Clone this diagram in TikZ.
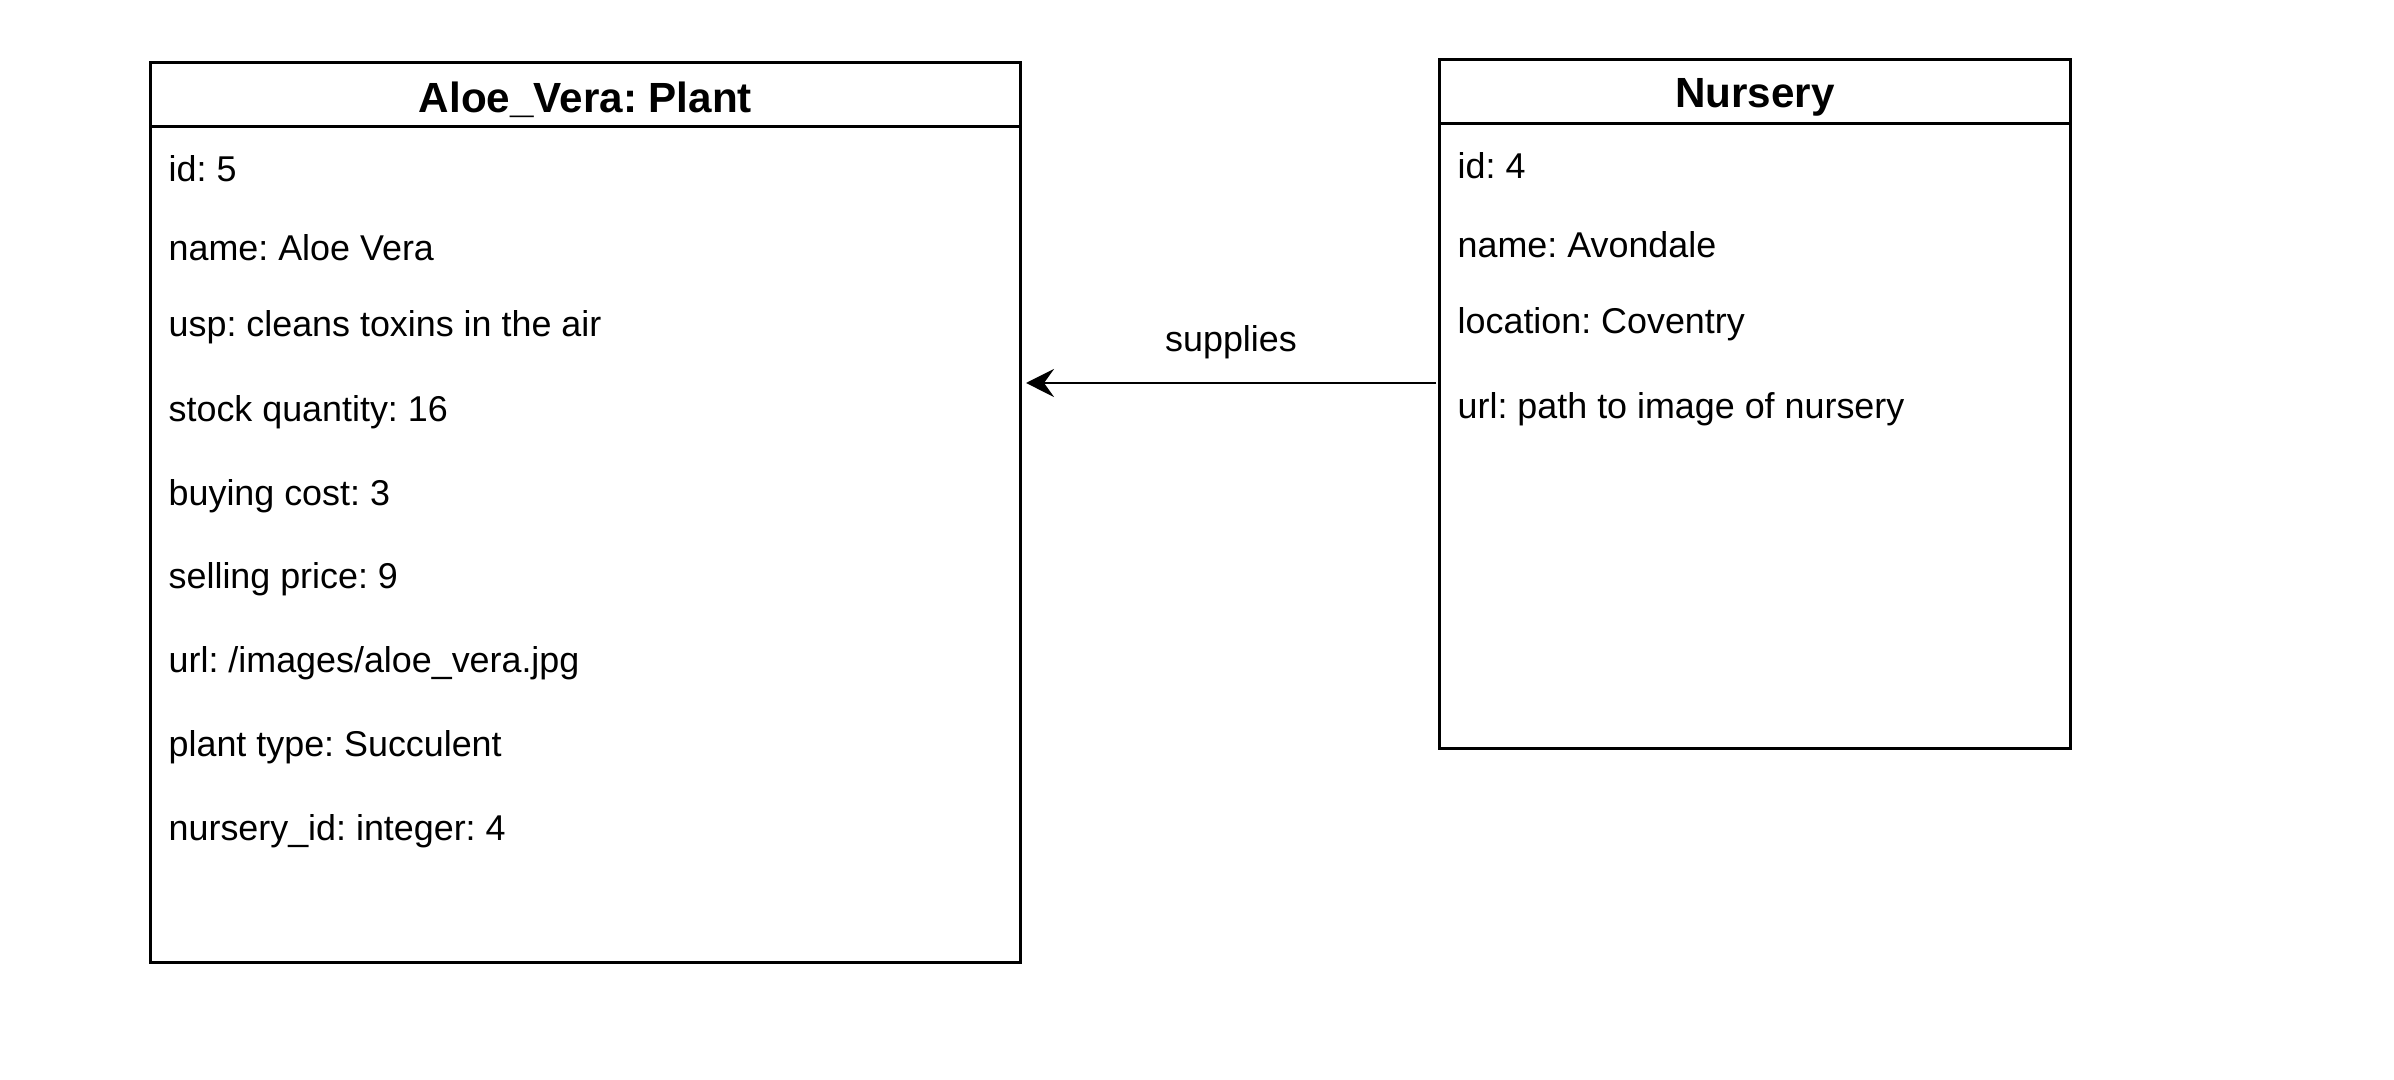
\documentclass[tikz,border=0pt]{standalone}
\usepackage{fontspec}
\setmainfont{Liberation Sans}
\frenchspacing
\usetikzlibrary{arrows.meta,calc,positioning}
\tikzset{
  classbox/.style={draw=black,line width=0.85pt,rectangle,inner sep=0pt},
  classtitle/.style={font=\fontsize{12}{14}\selectfont\bfseries},
  attr/.style={anchor=west,inner sep=0pt,font=\fontsize{10.2}{12}\selectfont},
  assoc/.style={line width=0.7pt,-{Stealth[length=2.8mm,width=2.8mm,inset=1mm]}}
}

\begin{document}
\begin{tikzpicture}[x=0.01cm,y=-0.01cm]
\useasboundingbox (0,0) rectangle (2394,1080);

% Draw the two class boxes.
\node[classbox,minimum width=8.69cm,minimum height=8.99cm] (plant) at (585.5,512.5) {};
\node[classbox,minimum width=6.30cm,minimum height=6.88cm] (nursery) at (1755,404) {};

% Draw headers.
\draw[line width=0.85pt] ([yshift=-0.65cm]plant.north west) -- ([yshift=-0.65cm]plant.north east);
\draw[line width=0.85pt] ([yshift=-0.65cm]nursery.north west) -- ([yshift=-0.65cm]nursery.north east);
\node[classtitle] (plantTitle) at ([yshift=-0.39cm]plant.north) {Aloe\_Vera: Plant};
\node[classtitle] (nurseryTitle) at ([yshift=-0.39cm]nursery.north) {Nursery};

% Draw attributes of the plant.
\foreach \Y/\T [count=\i] in {169/{id: 5},248/{name: Aloe Vera},327/{usp: cleans toxins in the air},
  412/{stock quantity: 16},496/{buying cost: 3},579/{selling price: 9},
  663/{url: /images/aloe\_vera.jpg},747/{plant type: Succulent},831/{nursery\_id: integer: 4}}
\node[attr] (plantRow\i) at (168,\Y) {\T};

% Draw attributes of the nursery.
\foreach \Y/\T [count=\i] in {166/{id: 4},245/{name: Avondale},324/{location: Coventry},409/{url: path to image of nursery}}
\node[attr] (nurseryRow\i) at (1457,\Y) {\T};

% Draw the association.
\coordinate (supFrom) at (1436,383);
\coordinate (supTo) at (1026,383);
\draw[assoc] (supFrom) -- (supTo);
\node[font=\fontsize{10.2}{12}\selectfont] (supLabel) at (1231,342) {supplies};
\end{tikzpicture}
\end{document}
